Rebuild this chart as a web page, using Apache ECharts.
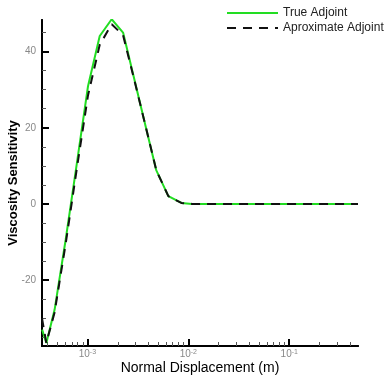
<!DOCTYPE html>
<html>
<head>
<meta charset="utf-8">
<script src="https://cdn.jsdelivr.net/npm/echarts@6/dist/echarts.min.js"></script>
<style>
  html, body { margin: 0; padding: 0; background: #fff; }
  #chart { width: 386px; height: 376px; }
</style>
</head>
<body>
<div id="chart"></div>
<script>
// normal displacement (m)
const xTrue = [3.56e-4, 3.92e-4, 4.73e-4, 6.09e-4, 7.83e-4, 1.014e-3, 1.325e-3, 1.742e-3, 2.257e-3,
  2.95e-3, 3.80e-3, 4.82e-3, 6.34e-3, 8.54e-3, 1.086e-2, 1.5e-2, 2e-2, 3e-2, 5e-2, 8e-2, 0.13, 0.2, 0.3, 0.48];
const yTrue = [-33, -36.5, -27.8, -9.4, 10.3, 30.9, 44.1, 48.5, 45.0,
  32.2, 20.1, 8.8, 2.05, 0.26, 0, 0, 0, 0, 0, 0, 0, 0, 0, 0];
const xApprox = [3.55e-4, 3.92e-4, 4.73e-4, 6.09e-4, 7.83e-4, 1.014e-3, 1.325e-3, 1.742e-3, 2.257e-3,
  2.95e-3, 3.80e-3, 4.82e-3, 6.34e-3, 8.54e-3, 1.086e-2, 1.5e-2, 2e-2, 3e-2, 5e-2, 8e-2, 0.13, 0.2, 0.3, 0.48];
const yApprox = [-30, -36.5, -28.5, -10.5, 9.0, 28.5, 41.8, 47.2, 44.3,
  32.0, 20.1, 8.8, 2.05, 0.26, 0, 0, 0, 0, 0, 0, 0, 0, 0, 0];

const xMajor = [1e-3, 1e-2, 1e-1];
const xMinor = [4e-4, 5e-4, 6e-4, 7e-4, 8e-4, 9e-4,
  2e-3, 3e-3, 4e-3, 5e-3, 6e-3, 7e-3, 8e-3, 9e-3,
  2e-2, 3e-2, 4e-2, 5e-2, 6e-2, 7e-2, 8e-2, 9e-2,
  0.2, 0.3, 0.4];
const yMajor = [-20, 0, 20, 40];
const yMinor = [-35, -30, -25, -15, -10, -5, 5, 10, 15, 25, 30, 35, 45];

const X_MIN = 3.55e-4, X_MAX = 0.48;
const Y_MIN = -37.3, Y_MAX = 48.3;
const FONT = '"Liberation Sans", Arial, sans-serif';

const pairs = (xs, ys) => xs.map((x, i) => [x, ys[i]]);

const chart = echarts.init(document.getElementById('chart'));

const baseX = {
  type: 'log',
  logBase: 10,
  min: X_MIN,
  max: X_MAX,
  position: 'bottom',
  splitLine: { show: false },
  axisLine: { show: true, onZero: false, lineStyle: { color: '#000', width: 2 } },
};
const baseY = {
  type: 'value',
  min: Y_MIN,
  max: Y_MAX,
  position: 'left',
  splitLine: { show: false },
  axisLine: { show: true, onZero: false, lineStyle: { color: '#000', width: 2 } },
};

chart.setOption({
  animation: false,
  grid: { left: 42, right: 28, top: 20, bottom: 30, containLabel: false, outerBoundsMode: 'none' },
  legend: {
    orient: 'vertical',
    left: 221,
    top: 2,
    itemWidth: 51,
    itemHeight: 14,
    itemGap: 3,
    itemTextGap: 8,
    textStyle: { fontFamily: FONT, fontSize: 12, color: '#222' },
    data: ['True Adjoint', 'Aproximate Adjoint'],
  },
  // axis titles
  graphic: [
    {
      type: 'text',
      x: 200,
      y: 368,
      style: { text: 'Normal Displacement (m)', font: '14px ' + FONT, fill: '#000',
        align: 'center', verticalAlign: 'middle' },
    },
    {
      type: 'text',
      x: 13,
      y: 183,
      rotation: Math.PI / 2,
      style: { text: 'Viscosity Sensitivity', font: 'bold 13px ' + FONT, fill: '#000',
        align: 'center', verticalAlign: 'middle' },
    },
  ],
  xAxis: [
    {
      ...baseX,
      axisTick: { show: true, inside: true, length: 7, customValues: xMajor,
        lineStyle: { color: '#000', width: 2 } },
      axisLabel: {
        show: true,
        customValues: xMajor,
        margin: 3,
        color: '#888',
        fontFamily: FONT,
        fontSize: 10,
        formatter: (v) => '10{s|' + Math.round(Math.log10(v)) + '}',
        rich: { s: { fontSize: 7, color: '#888', verticalAlign: 'top', fontFamily: FONT } },
      },
    },
    {
      ...baseX,
      axisTick: { show: true, inside: true, length: 4, customValues: xMinor,
        lineStyle: { color: '#555', width: 1 } },
      axisLabel: { show: false },
    },
  ],
  yAxis: [
    {
      ...baseY,
      axisTick: { show: true, inside: true, length: 7, customValues: yMajor,
        lineStyle: { color: '#000', width: 2 } },
      axisLabel: { show: true, customValues: yMajor, margin: 6, color: '#888',
        fontFamily: FONT, fontSize: 10 },
    },
    {
      ...baseY,
      axisTick: { show: true, inside: true, length: 4, customValues: yMinor,
        lineStyle: { color: '#555', width: 1 } },
      axisLabel: { show: false },
    },
  ],
  series: [
    {
      name: 'True Adjoint',
      type: 'line',
      data: pairs(xTrue, yTrue),
      symbol: 'none',
      lineStyle: { color: '#22dd22', width: 2 },
      itemStyle: { color: '#22dd22', opacity: 0 },
      z: 2,
    },
    {
      name: 'Aproximate Adjoint',
      type: 'line',
      data: pairs(xApprox, yApprox),
      symbol: 'none',
      lineStyle: { color: '#111', width: 2, type: [9, 7] },
      itemStyle: { color: '#111', opacity: 0 },
      z: 3,
    },
  ],
});
</script>
</body>
</html>
